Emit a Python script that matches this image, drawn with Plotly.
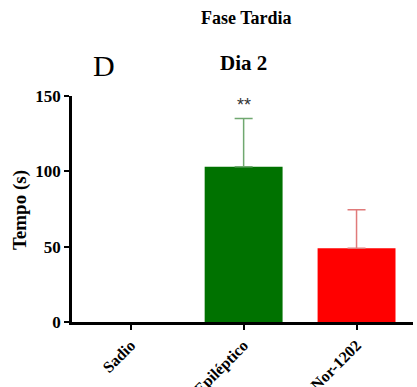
import plotly.graph_objects as go

categories = ["Sadio", "Epiléptico", "Nor-1202"]
means = [0, 103, 49]
sem_upper = [0, 32, 25.5]
bar_colors = ["#ffffff", "#007200", "#ff0000"]
err_colors = ["#ffffff", "#70a870", "#e07a7a"]
y_ticks = [0, 50, 100, 150]

SERIF = "Liberation Serif"

fig = go.Figure()
for cat, m, e, bc, ec in zip(categories, means, sem_upper, bar_colors, err_colors):
    fig.add_trace(go.Bar(
        x=[cat], y=[m], width=0.69,
        marker=dict(color=bc, line=dict(width=0)),
        error_y=dict(type="data", array=[e], arrayminus=[0], symmetric=False,
                     color=ec, thickness=1.5, width=9, visible=e > 0),
        showlegend=False,
    ))

fig.update_layout(
    width=417, height=387,
    margin=dict(l=72, r=4, t=96, b=65),
    paper_bgcolor="white", plot_bgcolor="white",
    barmode="overlay",
    font=dict(family=SERIF, color="black"),
    xaxis=dict(
        type="category", range=[-0.52, 2.5],
        tickvals=categories, ticktext=[f"<b>{c}</b>" for c in categories],
        showline=True, linecolor="black", linewidth=2.5,
        ticks="outside", ticklen=5, tickwidth=2, tickcolor="black",
        tickangle=-45, tickfont=dict(family=SERIF, size=16, color="black"),
        showgrid=False, automargin=False,
    ),
    yaxis=dict(
        range=[0, 150], tickvals=y_ticks, ticktext=[f"<b>{v}</b>" for v in y_ticks],
        showline=True, linecolor="black", linewidth=2.5,
        ticks="outside", ticklen=5, tickwidth=2, tickcolor="black",
        tickfont=dict(family=SERIF, size=17, color="black"),
        showgrid=False, zeroline=False, automargin=False,
    ),
    annotations=[
        dict(text="<b>Fase Tardia</b>", x=0.513, y=1.345, xref="paper", yref="paper",
             xanchor="center", yanchor="middle",
             showarrow=False, font=dict(family=SERIF, size=18)),
        dict(text="<b>Dia 2</b>", x=0.504, y=1.146, xref="paper", yref="paper",
             xanchor="center", yanchor="middle",
             showarrow=False, font=dict(family=SERIF, size=21)),
        dict(text="D", x=0.094, y=1.133, xref="paper", yref="paper",
             xanchor="center", yanchor="middle",
             showarrow=False, font=dict(family=SERIF, size=30)),
        dict(text="<b>Tempo (s)</b>", x=-0.152, y=0.496, xref="paper", yref="paper",
             xanchor="center", yanchor="middle",
             textangle=-90, showarrow=False, font=dict(family=SERIF, size=19)),
        dict(text="**", x="Epiléptico", y=144, xref="x", yref="y",
             xanchor="center", yanchor="middle",
             showarrow=False, font=dict(family="Liberation Sans", size=18, color="#333333")),
    ],
)

fig.write_html("out.html")
